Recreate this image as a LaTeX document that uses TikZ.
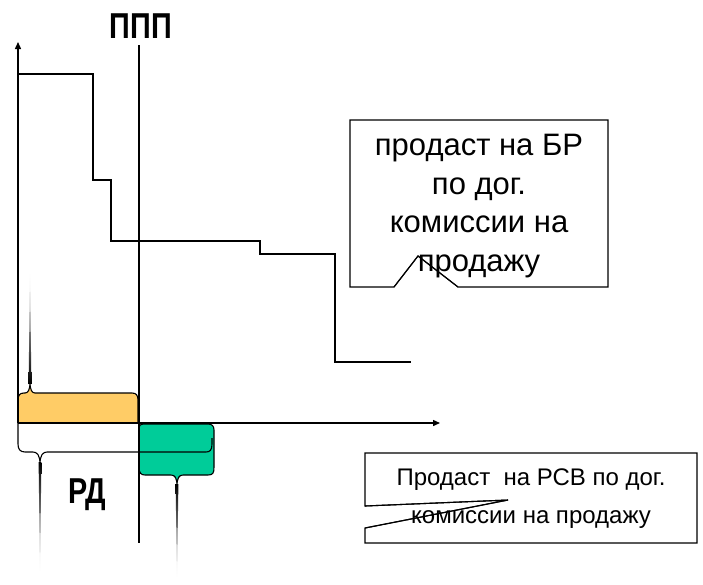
\documentclass[tikz,border=0pt]{standalone}
\usepackage{fontspec}
\setmainfont{Liberation Sans}
\usetikzlibrary{arrows.meta}

\definecolor{yel}{RGB}{255,204,102}
\definecolor{grn}{RGB}{0,204,153}

\tikzset{
  axis/.style={line width=1.4pt, -{Triangle[length=7pt,width=6pt]}},
  stair/.style={line width=1.3pt},
  brace/.style={line width=1.1pt, line join=round},
  callout/.style={line width=1.1pt, fill=white},
  lbl/.style={font=\bfseries\fontsize{36}{36}\selectfont, xscale=0.8, inner sep=0pt},
  note/.style={align=center, inner sep=0pt},
}

\begin{document}
\begin{tikzpicture}[x=1pt, y=-1pt]
\useasboundingbox (0,0) rectangle (703,584);

% points of the axes
\coordinate (O) at (18,423);
\coordinate (Y) at (18,42);
\coordinate (X) at (440,423);
\coordinate (P1) at (139,45);
\coordinate (P2) at (139,543);

% yellow brace (top)
\fill[yel] (18,423) -- (18,400) .. controls (18,395) and (20,393) .. (24,393) -- (25,393)
  .. controls (28,393) and (30,390) .. (30,382) .. controls (30,390) and (32,393) .. (35,393)
  -- (132,393) .. controls (136,393) and (138,395) .. (138,400) -- (138,423) -- cycle;
\draw[brace] (18,423) -- (18,400) .. controls (18,395) and (20,393) .. (24,393) -- (25,393)
  .. controls (28,393) and (30,390) .. (30,382) .. controls (30,390) and (32,393) .. (35,393)
  -- (132,393) .. controls (136,393) and (138,395) .. (138,400) -- (138,423);
\shade[top color=white, bottom color=black] (28.6,384) -- (31.4,384) -- (30,272) -- cycle;
\draw[line width=0.8pt, black!70] (18,423) -- (138,423);

% green brace
\fill[grn, draw=black, brace] (139,467) -- (139,430) .. controls (139,425) and (140,424) .. (145,424)
  -- (208,424) .. controls (212,424) and (214,426) .. (214,430) -- (214,467)
  .. controls (214,473) and (213,475) .. (208,475) -- (183,475)
  .. controls (179,475) and (177,478) .. (177,486) .. controls (177,478) and (175,475) .. (171,475)
  -- (145,475) .. controls (141,475) and (139,473) .. (139,467);
\shade[top color=black, bottom color=white] (175.6,484) -- (178.4,484) -- (177,578) -- cycle;

% white brace (bottom)
\draw[brace] (18,423) -- (18,444) .. controls (18,449) and (20,452) .. (25,452) -- (33,452)
  .. controls (37,452) and (40,455) .. (40,464) .. controls (40,455) and (43,452) .. (47,452)
  -- (206,452) .. controls (210,452) and (212,450) .. (212,444) -- (212,438);
\shade[top color=black, bottom color=white] (38.6,462) -- (41.4,462) -- (40,572) -- cycle;

% axes
\draw[axis] (O) -- (Y);
\draw[axis] (O) -- (X);
\draw[line width=1.4pt] (P1) -- (P2);

% stair curve
\draw[stair] (Y |- 0,74) -- (93,74) -- (93,180) -- (111,180) -- (111,241) -- (260,241)
  -- (260,254) -- (335,254) -- (335,362) -- (411,362);

% labels
\node[lbl] (ppp) at (141,26) {ППП};
\node[lbl] (rd) at (87,495) {РД};

% callout on the BR
\draw[callout] (350,120) -- (608,120) -- (608,287) -- (458,287) -- (418,256) -- (394,287)
  -- (350,287) -- cycle;
\node[note, font=\fontsize{31}{38.5}\selectfont] (br) at (479,206)
  {продаст на БР\\по дог.\\комиссии на\\продажу};
\draw[line width=1.1pt] (394,287) -- (418,256) -- (458,287);

% callout on the RSV
\draw[callout] (365,453) -- (697,453) -- (697,543) -- (365,543) -- (365,528) -- (508,500)
  -- (365,506) -- cycle;
\node[note, font=\fontsize{24}{38}\selectfont] (rsv) at (531,499)
  {Продаст\ \ на РСВ по дог.\\комиссии на продажу};
\draw[line width=1.1pt] (365,528) -- (508,500) -- (365,506);
\end{tikzpicture}
\end{document}
